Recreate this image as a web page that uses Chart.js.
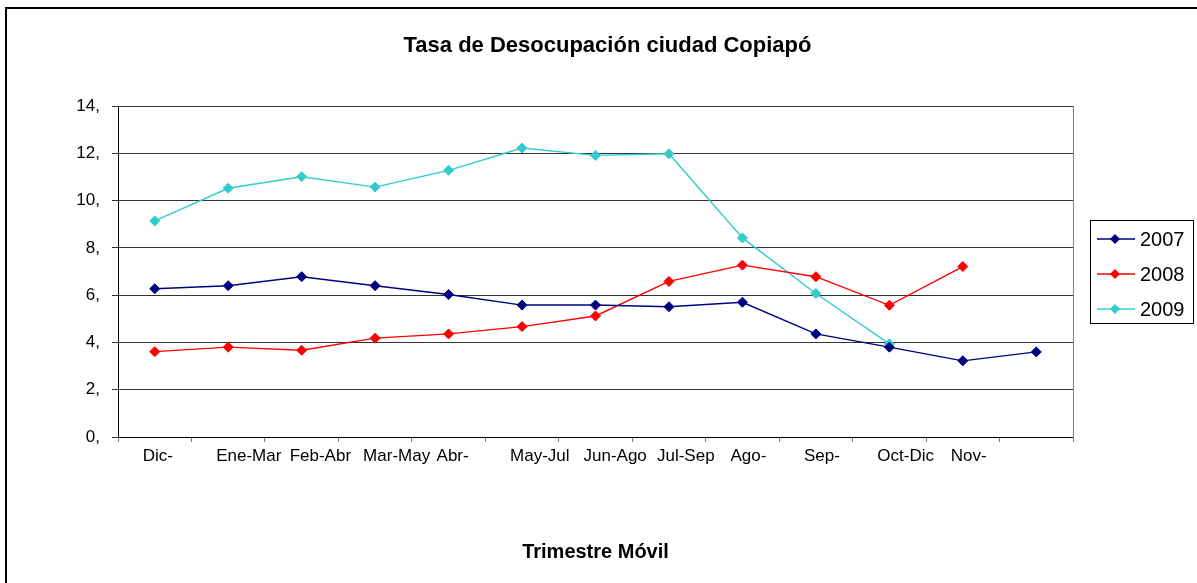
<!DOCTYPE html>
<html>
<head>
<meta charset="utf-8">
<script src="https://cdn.jsdelivr.net/npm/chart.js@4/dist/chart.umd.min.js"></script>
<style>
html,body{margin:0;padding:0;background:#fff;}
#wrap{position:relative;width:1197px;height:583px;}
</style>
</head>
<body>
<div id="wrap"><canvas id="c" width="1197" height="583"></canvas></div>
<script>
const categories = ["Dic-", "Ene-Mar", "Feb-Abr", "Mar-May", "Abr-", "May-Jul", "Jun-Ago", "Jul-Sep", "Ago-", "Sep-", "Oct-Dic", "Nov-", ""];
const seriesNames = ["2007", "2008", "2009"];
const values2007 = [6.27, 6.40, 6.78, 6.40, 6.03, 5.58, 5.58, 5.51, 5.70, 4.36, 3.80, 3.22, 3.60];
const values2008 = [3.61, 3.80, 3.67, 4.18, 4.36, 4.67, 5.12, 6.58, 7.27, 6.78, 5.57, 7.21, null];
const values2009 = [9.14, 10.52, 11.01, 10.57, 11.28, 12.22, 11.91, 11.98, 8.42, 6.07, 3.94, null, null];
const seriesColors = ["#000080", "#FF0000", "#33CCCC"];
const yTicks = [0, 2, 4, 6, 8, 10, 12, 14];

const FONT = "'Liberation Sans', Arial, sans-serif";

const frameAndLegend = {
  id: 'frameAndLegend',
  beforeDraw(chart) {
    const ctx = chart.ctx;
    ctx.save();
    ctx.fillStyle = '#fff';
    ctx.fillRect(0, 0, chart.width, chart.height);
    ctx.strokeStyle = '#000';
    ctx.lineWidth = 2;
    ctx.beginPath();
    ctx.moveTo(6, chart.height);
    ctx.lineTo(6, 8);
    ctx.lineTo(chart.width, 8);
    ctx.stroke();
    ctx.restore();
  },
  afterDraw(chart) {
    const ctx = chart.ctx;
    ctx.save();
    const lx = 1090, ly = 220, lw = 103, lh = 103;
    ctx.fillStyle = '#fff';
    ctx.fillRect(lx, ly, lw, lh);
    ctx.strokeStyle = '#000';
    ctx.lineWidth = 1;
    ctx.strokeRect(lx + 0.5, ly + 0.5, lw, lh);
    const rows = [239, 274, 309];
    chart.data.datasets.forEach((ds, i) => {
      const y = rows[i];
      ctx.strokeStyle = ds.borderColor;
      ctx.lineWidth = 1.5;
      ctx.beginPath();
      ctx.moveTo(1097, y);
      ctx.lineTo(1135, y);
      ctx.stroke();
      ctx.fillStyle = ds.borderColor;
      ctx.beginPath();
      const r = 5;
      ctx.moveTo(1115, y - r);
      ctx.lineTo(1115 + r, y);
      ctx.lineTo(1115, y + r);
      ctx.lineTo(1115 - r, y);
      ctx.closePath();
      ctx.fill();
      ctx.fillStyle = '#000';
      ctx.font = "20px " + FONT;
      ctx.textBaseline = 'middle';
      ctx.textAlign = 'left';
      ctx.fillText(ds.label, 1140, y + 1);
    });
    ctx.restore();
  }
};

const allValues = [values2007, values2008, values2009];
const datasets = seriesNames.map((name, i) => ({
  label: name,
  data: allValues[i],
  borderColor: seriesColors[i],
  backgroundColor: seriesColors[i],
  pointBackgroundColor: seriesColors[i],
  pointBorderColor: seriesColors[i],
  pointStyle: 'rectRot',
  pointRadius: 5,
  pointBorderWidth: 1,
  borderWidth: 1.4,
  tension: 0,
  spanGaps: false
}));

new Chart(document.getElementById('c'), {
  type: 'line',
  data: { labels: categories, datasets: datasets },
  plugins: [frameAndLegend],
  options: {
    responsive: false,
    animation: false,
    devicePixelRatio: 1,
    layout: { padding: { left: 18, right: 0, top: 0, bottom: 0 } },
    plugins: {
      legend: { display: false },
      tooltip: { enabled: false },
      title: {
        display: true,
        text: 'Tasa de Desocupación ciudad Copiapó',
        color: '#000',
        font: { family: FONT, size: 22, weight: 'bold', lineHeight: 1.2 },
        padding: { top: 33, bottom: 46.6 }
      }
    },
    scales: {
      x: {
        type: 'category',
        offset: true,
        grid: {
          offset: true,
          drawOnChartArea: false,
          drawTicks: true,
          tickLength: 5,
          color: '#808080'
        },
        border: { display: true, color: '#000', width: 1 },
        ticks: {
          color: '#000',
          font: { family: FONT, size: 17 },
          padding: 4,
          align: 'start',
          labelOffset: -12,
          maxRotation: 0,
          autoSkip: false
        },
        title: {
          display: true,
          text: 'Trimestre Móvil',
          color: '#000',
          font: { family: FONT, size: 20, weight: 'bold' },
          padding: { top: 0, bottom: 19 }
        },
        afterFit(scale) { scale.height = 146; }
      },
      y: {
        min: 0,
        max: 14,
        afterBuildTicks(scale) { scale.ticks = yTicks.map(v => ({ value: v })); },
        grid: {
          color: '#333',
          lineWidth: 1,
          tickLength: 6,
          drawTicks: true
        },
        border: { display: true, color: '#000', width: 1 },
        ticks: {
          color: '#000',
          font: { family: FONT, size: 17 },
          padding: 12,
          callback: (v) => v + ','
        },
        afterFit(scale) { scale.width = 100; }
      },
      yRight: {
        position: 'right',
        display: true,
        min: 0,
        max: 14,
        grid: { display: false, drawTicks: false },
        ticks: { display: false },
        border: { display: true, color: '#808080', width: 1 },
        afterFit(scale) { scale.width = 124; }
      }
    }
  }
});
</script>
</body>
</html>
